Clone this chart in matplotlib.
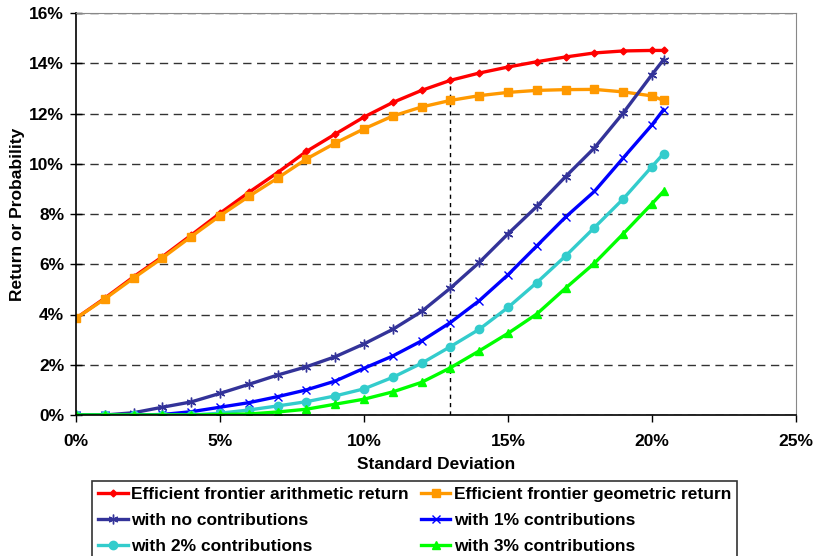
import numpy as np
import matplotlib
matplotlib.use("Agg")
from matplotlib import pyplot as plt
from matplotlib.ticker import PercentFormatter, MultipleLocator

plt.rcParams['font.family'] = ['Liberation Sans', 'DejaVu Sans']
plt.rcParams['font.weight'] = 'bold'

# ecart-type (%)
sigma = [0, 1, 2, 3, 4, 5, 6, 7, 8, 9, 10, 11, 12, 13, 14, 15, 16, 17, 18, 19, 20, 20.4]

# frontieres efficientes (%)
arith = [3.85, 4.65, 5.5, 6.3, 7.16, 8.03, 8.86, 9.65, 10.49, 11.18, 11.86,
         12.44, 12.92, 13.32, 13.61, 13.85, 14.06, 14.25, 14.41, 14.49, 14.51, 14.51]
geom = [3.85, 4.62, 5.45, 6.25, 7.1, 7.93, 8.70, 9.43, 10.19, 10.82, 11.39,
        11.90, 12.26, 12.52, 12.71, 12.84, 12.92, 12.95, 12.96, 12.86, 12.70, 12.52]

# probabilites selon les contributions (%)
p_none = [0, 0, 0.09, 0.31, 0.52, 0.86, 1.22, 1.59, 1.92, 2.32, 2.83,
          3.41, 4.12, 5.05, 6.07, 7.21, 8.30, 9.49, 10.63, 12.02, 13.55, 14.14]
p_1 = [0, 0, 0, 0.02, 0.13, 0.31, 0.49, 0.73, 1.0, 1.35, 1.86,
       2.35, 2.95, 3.68, 4.55, 5.58, 6.73, 7.88, 8.90, 10.23, 11.55, 12.15]
p_2 = [0, 0, 0, 0, 0, 0.07, 0.2, 0.36, 0.53, 0.76, 1.04,
       1.5, 2.06, 2.72, 3.41, 4.28, 5.27, 6.33, 7.46, 8.60, 9.89, 10.40]
p_3 = [0, 0, 0, 0, 0, 0.02, 0.04, 0.12, 0.23, 0.43, 0.63,
       0.92, 1.30, 1.88, 2.55, 3.25, 4.02, 5.05, 6.04, 7.21, 8.41, 8.90]

labels = ["Efficient frontier arithmetic return", "Efficient frontier geometric return",
          "with no contributions", "with 1% contributions",
          "with 2% contributions", "with 3% contributions"]

SIGMA_REF = 13  # point marque par la ligne verticale
FS = 12.5

fig = plt.figure(figsize=(8.14, 5.56), dpi=100)
ax = fig.add_axes([76/814, 1-415/556, 720/814, 402/556])

lw = 2.4
h_ar, = ax.plot(sigma, arith, color="#FF0000", lw=lw, marker="D", ms=3.5, label=labels[0])
h_ge, = ax.plot(sigma, geom, color="#FF9900", lw=lw, marker="s", ms=5.5, label=labels[1])
h_n, = ax.plot(sigma, p_none, color="#333399", lw=lw, marker=(6, 2, 0), ms=7, mew=1, label=labels[2])
h_1, = ax.plot(sigma, p_1, color="#0000FF", lw=lw, marker="x", ms=6, mew=1, label=labels[3])
h_2, = ax.plot(sigma, p_2, color="#33CCCC", lw=lw, marker="o", ms=6, label=labels[4])
h_3, = ax.plot(sigma, p_3, color="#00FF00", lw=lw, marker="^", ms=6, label=labels[5])

i_ref = sigma.index(SIGMA_REF)
ax.vlines(SIGMA_REF, 0, arith[i_ref], colors="black", lw=1, linestyles=(0, (3, 3)), zorder=1)

ax.set_xlim(0, 25)
ax.set_ylim(0, 16)
ax.xaxis.set_major_locator(MultipleLocator(5))
ax.yaxis.set_major_locator(MultipleLocator(2))
ax.xaxis.set_major_formatter(PercentFormatter(100, decimals=0))
ax.yaxis.set_major_formatter(PercentFormatter(100, decimals=0))
ax.grid(axis="y", color="#333333", lw=1, linestyle=(0, (6, 4)), zorder=0)
ax.set_axisbelow(True)
ax.tick_params(axis="x", labelsize=FS, length=5, width=1, pad=9)
ax.tick_params(axis="y", labelsize=FS, direction="inout", length=9, width=1, pad=4)

for s in ["top", "right"]:
    ax.spines[s].set_color("#888888")
for s in ["left", "bottom"]:
    ax.spines[s].set_linewidth(1.2)

ax.set_xlabel("Standard Deviation", fontsize=FS, fontweight="bold")
ax.set_ylabel("Return or Probability", fontsize=FS, fontweight="bold")
ax.xaxis.set_label_coords(0.5, (415-457)/402)
ax.yaxis.set_label_coords((25-76)/720, 0.5)

handles = [h_ar, h_n, h_2, h_ge, h_1, h_3]
leg = fig.legend(handles, [h.get_label() for h in handles], ncol=2,
                 loc="upper left", bbox_to_anchor=(92/814, 1-481/556),
                 fontsize=FS, frameon=True, fancybox=False, edgecolor="black",
                 handlelength=1.7, handletextpad=0.2, columnspacing=0.7,
                 labelspacing=0.62, borderpad=0.35, borderaxespad=0)
leg.get_frame().set_linewidth(1.2)

fig.savefig("out.png", dpi=100)
